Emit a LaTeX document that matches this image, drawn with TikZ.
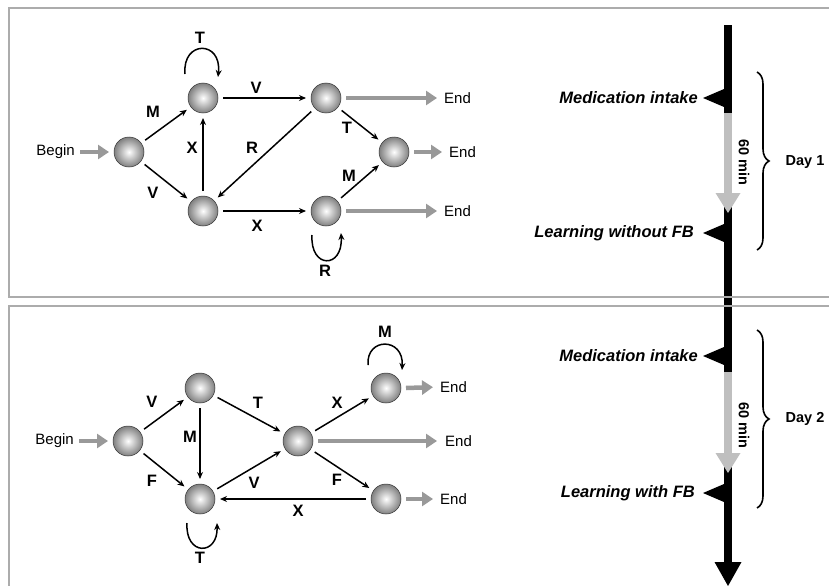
\documentclass[tikz,border=0pt]{standalone}
\usepackage{fontspec}
\setmainfont{Liberation Sans}
\usetikzlibrary{arrows.meta,calc,decorations.pathreplacing}
\begin{document}
\begin{tikzpicture}[x=1pt,y=-1pt,
  ball/.style={circle, minimum size=30pt, inner sep=0pt, outer sep=5pt, shading=radial, inner color=white, outer color=gray!100, draw=gray!40!black, line width=0.5pt},
  edge/.style={draw=black, line width=1.5pt, -{Stealth[length=7pt,width=6pt]}},
  greyarr/.style={draw=gray!80, line width=4.5pt, -{Triangle[length=11pt,width=14pt]}},
  lab/.style={font=\fontsize{16.5}{19}\selectfont\bfseries, inner sep=0pt},
  txt/.style={font=\fontsize{15}{18}\selectfont, inner sep=2pt},
  evt/.style={font=\fontsize{16.5}{20}\selectfont\bfseries\itshape, anchor=east, inner sep=0pt},
  daytxt/.style={font=\fontsize{14.5}{17}\selectfont\bfseries, inner sep=0pt},
  mintxt/.style={font=\fontsize{14.5}{17}\selectfont\bfseries, inner sep=0pt, rotate=-90},
  frame/.style={draw=gray!65, line width=2.5pt},
  brc/.style={draw=black, line width=1.6pt, decorate, decoration={brace, amplitude=12pt}},
]
\useasboundingbox[fill=white] (0,0) rectangle (829,586);

% ---------------- top panel graph ----------------
\node[ball] (a0) at (129,152) {};
\node[ball] (a1) at (203,98) {};
\node[ball] (a2) at (203,211) {};
\node[ball] (a3) at (326,98) {};
\node[ball] (a4) at (326,211) {};
\node[ball] (a5) at (394,152) {};
\node[txt, anchor=east] (abeg) at (77,152) {Begin};
\node[txt, anchor=west] (ae1) at (442,98) {End};
\node[txt, anchor=west] (ae2) at (447,152) {End};
\node[txt, anchor=west] (ae3) at (442,211) {End};

\draw[greyarr, shorten <=3pt] (abeg.east) -- (a0.west);
\draw[greyarr, shorten >=5pt] (a3.east) -- (ae1.west);
\draw[greyarr, shorten >=5pt] (a5.east) -- (ae2.west);
\draw[greyarr, shorten >=5pt] (a4.east) -- (ae3.west);

\draw[edge] (a0) -- (a1);
\draw[edge] (a0) -- (a2);
\draw[edge] (a2) -- (a1);
\draw[edge] (a1) -- (a3);
\draw[edge] (a3) -- (a2);
\draw[edge] (a2) -- (a4);
\draw[edge] (a3) -- (a5);
\draw[edge] (a4) -- (a5);
\draw[edge] ($(a1)+(-18,-24)$) .. controls ($(a1)+(-21,-58)$) and ($(a1)+(19,-58)$) .. ($(a1)+(15,-21)$);
\draw[edge] ($(a4)+(-14,24)$) .. controls ($(a4)+(-16,58)$) and ($(a4)+(17,58)$) .. ($(a4)+(15,22)$);

\node[lab] (la1) at (153,112) {M};
\node[lab] (la2) at (153,193) {V};
\node[lab] (la3) at (192,148) {X};
\node[lab] (la4) at (256,88) {V};
\node[lab] (la5) at (252,148) {R};
\node[lab] (la6) at (347,128) {T};
\node[lab] (la7) at (349,176) {M};
\node[lab] (la8) at (257,226) {X};
\node[lab] (la9) at (200,38) {T};
\node[lab] (la10) at (325,271) {R};

% ---------------- bottom panel graph ----------------
\node[ball] (b0) at (128,441) {};
\node[ball] (b1) at (200,388) {};
\node[ball] (b2) at (200,499) {};
\node[ball] (b3) at (298,441) {};
\node[ball] (b4) at (386,388) {};
\node[ball] (b5) at (386,499) {};
\node[txt, anchor=east] (bbeg) at (76,441) {Begin};
\node[txt, anchor=west] (be1) at (438,387) {End};
\node[txt, anchor=west] (be2) at (443,441) {End};
\node[txt, anchor=west] (be3) at (438,499) {End};

\draw[greyarr, shorten <=3pt] (bbeg.east) -- (b0.west);
\draw[greyarr, shorten >=5pt] (b4.east) -- (be1.west);
\draw[greyarr, shorten >=6pt] (b3.east) -- (be2.west);
\draw[greyarr, shorten >=5pt] (b5.east) -- (be3.west);

\draw[edge] (b0) -- (b1);
\draw[edge] (b0) -- (b2);
\draw[edge] (b1) -- (b2);
\draw[edge] (b1) -- (b3);
\draw[edge] (b2) -- (b3);
\draw[edge] (b3) -- (b4);
\draw[edge] (b3) -- (b5);
\draw[edge] (b5) -- (b2);
\draw[edge] ($(b4)+(-18,-23)$) .. controls ($(b4)+(-20,-51)$) and ($(b4)+(18,-51)$) .. ($(b4)+(16,-18)$);
\draw[edge] ($(b2)+(-13,24)$) .. controls ($(b2)+(-15,57)$) and ($(b2)+(18,57)$) .. ($(b2)+(17,24)$);

\node[lab] (lb1) at (152,402) {V};
\node[lab] (lb2) at (152,481) {F};
\node[lab] (lb3) at (190,437) {M};
\node[lab] (lb4) at (258,403) {T};
\node[lab] (lb5) at (254,483) {V};
\node[lab] (lb6) at (337,403) {X};
\node[lab] (lb7) at (337,480) {F};
\node[lab] (lb8) at (298,511) {X};
\node[lab] (lb9) at (385,332) {M};
\node[lab] (lb10) at (200,558) {T};

% ---------------- timeline ----------------
\fill[black] (724,25) rectangle (732,563);
\fill[black] (714.5,562) -- (741.5,562) -- (728,586) -- cycle;
% gray 60 min arrows
\fill[gray!50] (724,113) rectangle (732,194);
\fill[gray!50] (715.5,193) -- (740.5,193) -- (728,213) -- cycle;
\fill[gray!50] (724,372) rectangle (732,454);
\fill[gray!50] (715.5,453) -- (740.5,453) -- (728,473) -- cycle;
% event markers
\fill[black] (703,98) -- (724,89) -- (724,107) -- cycle;
\fill[black] (703,233) -- (724,224) -- (724,242) -- cycle;
\fill[black] (703,356) -- (724,347) -- (724,365) -- cycle;
\fill[black] (703,493) -- (724,484) -- (724,502) -- cycle;

\node[evt] (ev1) at (698,98) {Medication intake};
\node[evt] (ev2) at (694,233) {Learning without FB};
\node[evt] (ev3) at (698,356) {Medication intake};
\node[evt] (ev4) at (695,493) {Learning with FB};

\node[mintxt] (mn1) at (744,162) {60 min};
\node[mintxt] (mn2) at (744,425) {60 min};

\draw[brc] (757,72) -- (757,250);
\draw[brc] (757,330) -- (757,508);
\node[daytxt] (d1) at (805,162) {Day 1};
\node[daytxt] (d2) at (805,419) {Day 2};

% ---------------- frames ----------------
\draw[frame] (829,8) -- (9,8) -- (9,297) -- (829,297);
\draw[frame] (829,306) -- (9,306) -- (9,586);
\end{tikzpicture}
\end{document}
